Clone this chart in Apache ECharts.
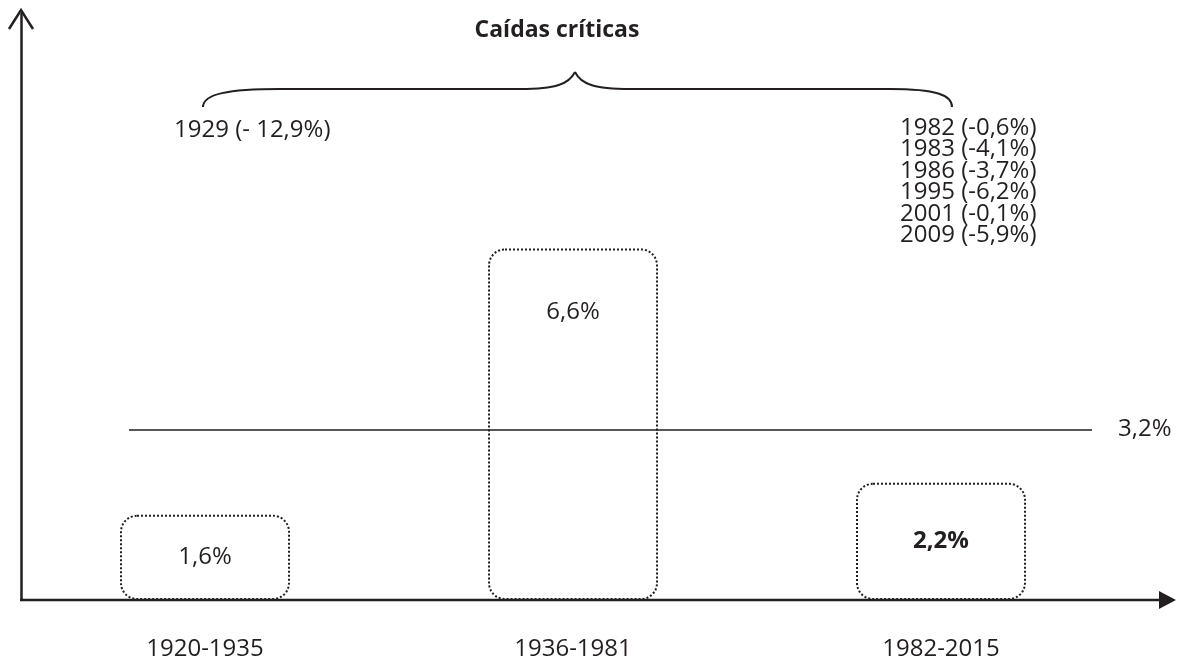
<!DOCTYPE html>
<html>
<head>
<meta charset="utf-8">
<script src="https://cdn.jsdelivr.net/npm/echarts@6/dist/echarts.min.js"></script>
<style>html,body{margin:0;padding:0;background:#fff}#c{width:1177px;height:662px}</style>
</head>
<body>
<div id="c"></div>
<script>
const periods = ['1920-1935', '1936-1981', '1982-2015'];
const growth = [1.6, 6.6, 2.2];
const average = 3.2;
const title = 'Caídas críticas';
const drops1929 = ['1929 (- 12,9%)'];
const dropsLate = ['1982 (-0,6%)', '1983 (-4,1%)', '1986 (-3,7%)', '1995 (-6,2%)', '2001 (-0,1%)', '2009 (-5,9%)'];

const INK = '#231f20';
const FONT = '"Open Sans", "Noto Sans", sans-serif';
const fmt = v => v.toFixed(1).replace('.', ',') + '%';

const chart = echarts.init(document.getElementById('c'), null, {renderer: 'canvas'});

const barData = growth.map((v, i) => {
  const item = {value: v};
  if (i === 1) item.label = {position: 'insideTop', distance: 52};
  if (i === 2) item.label = {fontWeight: 'bold'};
  return item;
});

const braceStyle = {stroke: INK, lineWidth: 2, fill: null};
const bz = (x1, y1, cpx1, cpy1, cpx2, cpy2, x2, y2) => ({
  type: 'bezierCurve', z: 10, style: braceStyle,
  shape: {x1, y1, cpx1, cpy1, cpx2, cpy2, x2, y2}
});
const ln = (x1, y1, x2, y2) => ({type: 'line', z: 10, style: braceStyle, shape: {x1, y1, x2, y2}});

chart.setOption({
  animation: false,
  backgroundColor: '#fff',
  grid: {left: 21, right: 52, top: 14, bottom: 62, containLabel: false},
  xAxis: {
    type: 'category',
    data: periods,
    axisLine: {show: false},
    axisTick: {show: false},
    axisLabel: {color: INK, fontSize: 24, fontFamily: FONT, margin: 37}
  },
  yAxis: {
    type: 'value',
    min: 0,
    max: 11,
    splitLine: {show: false},
    axisTick: {show: false},
    axisLabel: {show: false},
    axisLine: {show: true, lineStyle: {color: INK, width: 2.5}}
  },
  series: [{
    type: 'bar',
    data: barData,
    barWidth: 170,
    z: 2,
    itemStyle: {
      color: 'rgba(0,0,0,0)',
      borderColor: INK,
      borderWidth: 2,
      borderType: 'dotted',
      borderRadius: 16
    },
    label: {
      show: true,
      position: 'inside',
      color: INK,
      fontSize: 24,
      fontFamily: FONT,
      formatter: p => fmt(p.value)
    },
    markLine: {
      silent: true,
      symbol: 'none',
      z: 3,
      lineStyle: {type: 'solid', color: INK, width: 1.6},
      label: {
        show: true,
        position: 'end',
        distance: 26,
        color: INK,
        fontSize: 24,
        fontFamily: FONT,
        formatter: () => fmt(average)
      },
      data: [[{x: 129, yAxis: average}, {x: 1092, yAxis: average}]]
    }
  }],
  graphic: [
    {type: 'line', shape: {x1: 20, y1: 600, x2: 1162, y2: 600}, style: {stroke: INK, lineWidth: 2.5}, z: 10},
    {type: 'polygon', shape: {points: [[1159, 591], [1176, 600], [1159, 609]]}, style: {fill: INK}, z: 10},
    {type: 'polyline', shape: {points: [[9, 29], [21, 10], [33, 29]]}, style: {stroke: INK, lineWidth: 2.5, fill: null}, z: 10},
    bz(203, 107, 203, 94, 228, 89, 280, 89),
    ln(280, 89, 520, 89),
    bz(520, 89, 556, 89, 569, 84, 575, 72),
    bz(575, 72, 581, 84, 594, 89, 630, 89),
    ln(630, 89, 890, 89),
    bz(890, 89, 936, 89, 952, 95, 952, 107),
    {type: 'text', x: 557, y: 30, style: {text: title, fill: INK, font: 'bold 23px ' + FONT, align: 'center', verticalAlign: 'middle'}, z: 10},
    {type: 'text', x: 174, y: 130, style: {text: drops1929.join('\n'), fill: INK, font: '24px ' + FONT, align: 'left', verticalAlign: 'middle'}, z: 10},
    {type: 'text', x: 900, y: 117, style: {text: dropsLate.join('\n'), fill: INK, font: '24px ' + FONT, lineHeight: 21.5, align: 'left', verticalAlign: 'top'}, z: 10}
  ]
});
</script>
</body>
</html>
